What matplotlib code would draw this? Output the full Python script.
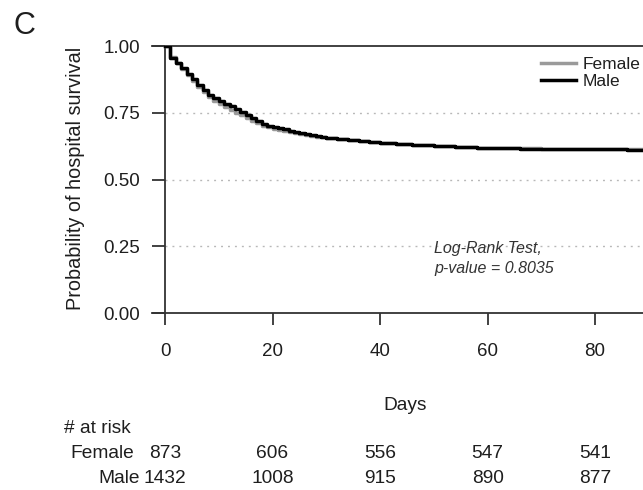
import matplotlib
matplotlib.use("Agg")
import matplotlib.pyplot as plt
import matplotlib.transforms as mtransforms

plt.rcParams["font.family"] = ["Liberation Sans", "DejaVu Sans"]

# Kaplan-Meier survival estimates (step values at each listed day)
female_days = [0, 1, 2, 3, 4, 5, 6, 7, 8, 9, 10, 11, 12, 13, 14, 15, 16, 17, 18, 19,
               20, 21, 22, 23, 24, 25, 26, 27, 28, 29, 30, 32, 34, 36, 38, 40, 43, 46,
               50, 54, 58, 62, 66, 70, 75, 80, 86, 92]
female_surv = [1.000, 0.957, 0.936, 0.915, 0.892, 0.869, 0.846, 0.826, 0.808, 0.795,
               0.783, 0.772, 0.761, 0.750, 0.740, 0.730, 0.719, 0.710, 0.702, 0.696,
               0.691, 0.687, 0.683, 0.679, 0.675, 0.671, 0.667, 0.664, 0.661, 0.658,
               0.655, 0.651, 0.647, 0.644, 0.641, 0.637, 0.633, 0.630, 0.626, 0.622,
               0.619, 0.618, 0.617, 0.616, 0.616, 0.615, 0.615, 0.615]

male_days = [0, 1, 2, 3, 4, 5, 6, 7, 8, 9, 10, 11, 12, 13, 14, 15, 16, 17, 18, 19,
             20, 21, 22, 23, 24, 25, 26, 27, 28, 29, 30, 32, 34, 36, 38, 40, 43, 46,
             50, 54, 58, 62, 66, 70, 75, 80, 86, 92]
male_surv = [1.000, 0.955, 0.937, 0.918, 0.897, 0.876, 0.853, 0.836, 0.818, 0.806,
             0.795, 0.784, 0.774, 0.763, 0.752, 0.741, 0.729, 0.718, 0.709, 0.702,
             0.697, 0.693, 0.688, 0.683, 0.678, 0.674, 0.670, 0.666, 0.663, 0.660,
             0.657, 0.652, 0.649, 0.646, 0.642, 0.638, 0.634, 0.630, 0.626, 0.622,
             0.619, 0.617, 0.616, 0.615, 0.614, 0.613, 0.612, 0.612]

# Numbers at risk
risk_times = [0, 20, 40, 60, 80]
female_at_risk = [873, 606, 556, 547, 541]
male_at_risk = [1432, 1008, 915, 890, 877]

x_ticks = [0, 20, 40, 60, 80]
y_ticks = [0.00, 0.25, 0.50, 0.75, 1.00]
grid_levels = [0.25, 0.50, 0.75]

W, H = 643, 490
fig = plt.figure(figsize=(W / 100, H / 100), dpi=100)

def fx(px):
    return px / W

def fy(py):
    return (H - py) / H

ax_left, ax_right, ax_top, ax_bottom = 152, 658, 46, 313
ax = fig.add_axes([fx(ax_left), fy(ax_bottom), fx(ax_right - ax_left), (ax_bottom - ax_top) / H])
ax.set_xlim(-2.42, 91.7)
ax.set_ylim(0, 1)

text_col = "#1e1e1e"
spine_col = "#333333"

# dotted reference lines
for g in grid_levels:
    ax.hlines(g, 0, 100, colors="#b8b8b8", linewidth=1.0, linestyles=(0, (1.4, 3.6)), zorder=1)

ax.step(female_days, female_surv, where="post", color="#9a9a9a", linewidth=2.5,
        label="Female", zorder=3)
ax.step(male_days, male_surv, where="post", color="#000000", linewidth=2.5,
        label="Male", zorder=4)

# vertical axis line at day 0
ax.axvline(0, color=spine_col, linewidth=1.3, zorder=2)

for side in ("left", "right"):
    ax.spines[side].set_visible(False)
for side in ("top", "bottom"):
    ax.spines[side].set_color(spine_col)
    ax.spines[side].set_linewidth(1.3)

ax.set_xticks(x_ticks)
ax.set_xticklabels([str(t) for t in x_ticks])
ax.set_yticks(y_ticks)
ax.set_yticklabels([f"{t:.2f}" for t in y_ticks])
ax.tick_params(axis="x", direction="out", length=8.6, width=1.3, color=spine_col,
               pad=13, labelsize=13.5, labelcolor=text_col)
ax.tick_params(axis="y", direction="in", length=9.4, width=1.3, color=spine_col,
               pad=8.6, labelsize=13.5, labelcolor=text_col)

fig.text(fx(76), fy(178.5), "Probability of hospital survival", rotation=90,
         ha="center", va="center", fontsize=14.3, color=text_col)
fig.text(fx(405), fy(405), "Days", ha="center", va="center", fontsize=13.8, color=text_col)
fig.text(fx(24.5), fy(26), "C", ha="center", va="center", fontsize=22, color=text_col)

fig.text(fx(434), fy(249), "Log-Rank Test,", ha="left", va="center", fontsize=11.5,
         style="italic", color="#333333")
fig.text(fx(434), fy(268), "p-value = 0.8035", ha="left", va="center", fontsize=11.5,
         style="italic", color="#333333")

ax.legend(loc="upper left", bbox_to_anchor=(fx(541), fy(57)), bbox_transform=fig.transFigure,
          frameon=False, fontsize=12.5, handlelength=2.0, handletextpad=0.4,
          labelspacing=0.08, borderpad=0, borderaxespad=0, labelcolor=text_col)

# risk table aligned with the day axis
trans = mtransforms.blended_transform_factory(ax.transData, fig.transFigure)
fig.text(fx(64), fy(428), "# at risk", ha="left", va="center", fontsize=13.8, color=text_col)
fig.text(fx(134), fy(453), "Female", ha="right", va="center", fontsize=13.8, color=text_col)
fig.text(fx(140), fy(478), "Male", ha="right", va="center", fontsize=13.8, color=text_col)
for t, nf, nm in zip(risk_times, female_at_risk, male_at_risk):
    ax.text(t, fy(453), str(nf), transform=trans, ha="center", va="center",
            fontsize=13.8, color=text_col, clip_on=False)
    ax.text(t, fy(478), str(nm), transform=trans, ha="center", va="center",
            fontsize=13.8, color=text_col, clip_on=False)

fig.savefig("out.png", dpi=100)
